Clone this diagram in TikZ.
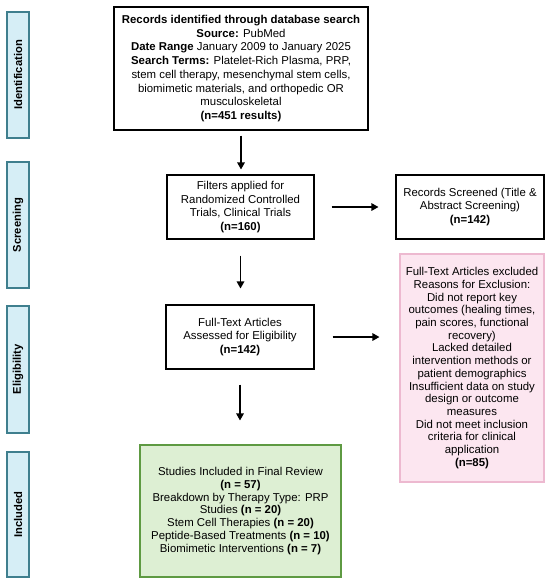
\documentclass[tikz,border=0pt]{standalone}
\usepackage{fontspec}
\setmainfont{Liberation Sans}
\usetikzlibrary{arrows.meta}
\definecolor{barfill}{HTML}{D6EEF6}
\definecolor{bardraw}{HTML}{3F7F8E}
\definecolor{pinkfill}{HTML}{FCE6F0}
\definecolor{pinkdraw}{HTML}{EDB9D0}
\definecolor{greenfill}{HTML}{DDEFD3}
\definecolor{greendraw}{HTML}{5E9A42}
\tikzset{
  x=1pt, y=-1pt,
  txt/.style={font=\fontsize{11.4}{13.7}\selectfont, align=center, inner sep=0pt},
  blackbox/.style={txt, draw=black, line width=1.1pt, fill=white},
  pinkbox/.style={txt, font=\fontsize{11.4}{12.7}\selectfont, draw=pinkdraw, fill=pinkfill, line width=1.1pt},
  greenbox/.style={txt, font=\fontsize{11.4}{12.8}\selectfont, draw=greendraw, fill=greenfill, line width=1.1pt},
  phasebar/.style={draw=bardraw, fill=barfill, line width=1.1pt, inner sep=0pt, minimum width=22pt, font=\fontsize{11.2}{13}\selectfont\bfseries},
  flow/.style={line width=1.4pt, -{Triangle[length=7pt,width=7.5pt]}}
}
\begin{document}
\begin{tikzpicture}
\useasboundingbox (0,0) rectangle (550,584);
% phase bars
\node[phasebar, minimum height=126pt] (pid) at (18,75) {\rotatebox{90}{Identification}};
\node[phasebar, minimum height=126pt] (psc) at (18,225) {\rotatebox{90}{Screening}};
\node[phasebar, minimum height=127pt] (pel) at (18,369.5) {\rotatebox{90}{Eligibility}};
\node[phasebar, minimum height=125pt] (pin) at (18,514.5) {\rotatebox{90}{Included}};
% boxes
\node[blackbox, minimum width=254pt, minimum height=123pt] (search) at (241,68.5)
 {\textbf{Records identified through database search}\\
  \textbf{Source:} PubMed\\
  \textbf{Date Range} January 2009 to January 2025\\
  \textbf{Search Terms:} Platelet-Rich Plasma, PRP,\\
  stem cell therapy, mesenchymal stem cells,\\
  biomimetic materials, and orthopedic OR\\
  musculoskeletal\\
  \textbf{(n=451 results)}};
\node[blackbox, minimum width=147pt, minimum height=64pt] (filt) at (240.5,207)
 {Filters applied for\\Randomized Controlled\\Trials, Clinical Trials\\\textbf{(n=160)}};
\node[blackbox, minimum width=148pt, minimum height=64pt] (scr) at (470,207)
 {Records Screened (Title \&\\Abstract Screening)\\\textbf{(n=142)}};
\node[blackbox, minimum width=148pt, minimum height=64pt] (full) at (240,337)
 {Full-Text Articles\\Assessed for Eligibility\\\textbf{(n=142)}};
\node[pinkbox, minimum width=144pt, minimum height=228pt] (excl) at (472,368)
 {Full-Text Articles excluded\\Reasons for Exclusion:\\Did not report key\\outcomes (healing times,\\pain scores, functional\\recovery)\\Lacked detailed\\intervention methods or\\patient demographics\\Insufficient data on study\\design or outcome\\measures\\Did not meet inclusion\\criteria for clinical\\application\\\textbf{(n=85)}};
\node[greenbox, minimum width=201pt, minimum height=132pt] (incl) at (240.5,511)
 {Studies Included in Final Review\\\textbf{(n = 57)}\\Breakdown by Therapy Type: PRP\\Studies \textbf{(n = 20)}\\Stem Cell Therapies \textbf{(n = 20)}\\Peptide-Based Treatments \textbf{(n = 10)}\\Biomimetic Interventions \textbf{(n = 7)}};
% connectors
\draw[flow, shorten <=5pt, shorten >=5pt] (search.south) -- (search.south |- filt.north);
\draw[flow, shorten <=16pt, shorten >=16pt] (filt.south) -- (filt.south |- full.north);
\draw[flow, shorten <=15pt, shorten >=24pt] (full.south) -- (full.south |- incl.north);
\draw[flow, shorten <=17pt, shorten >=17pt] (filt.east) -- (scr.west);
\draw[flow, shorten <=18pt, shorten >=20pt] (full.east) -- (full.east -| excl.west);
\end{tikzpicture}
\end{document}
